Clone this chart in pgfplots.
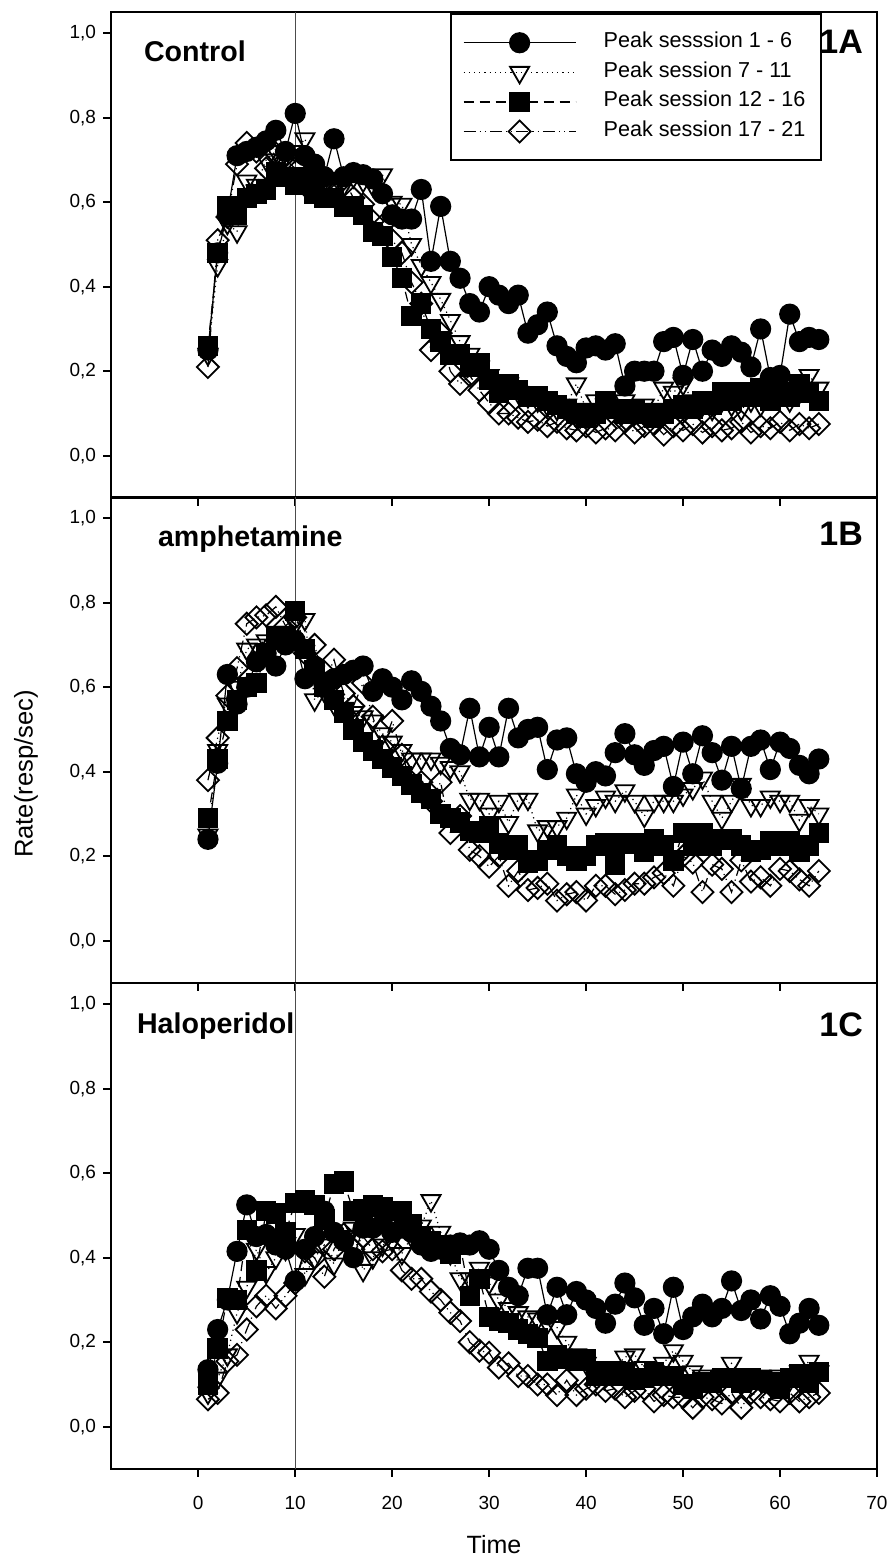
\documentclass[border=0pt]{standalone}
\usepackage{fontspec}
\setmainfont{Liberation Sans}
\usepackage{pgfplots}
\usepackage{pgfplotstable}
\pgfplotsset{compat=1.18}

% columns: a = sessions 1-6, b = 7-11, c = 12-16, d = 17-21
\pgfplotstableread{
x a b c d
1 0.25 0.24 0.26 0.21
2 0.48 0.45 0.48 0.51
3 0.57 0.55 0.59 0.565
4 0.71 0.53 0.57 0.69
5 0.72 0.65 0.61 0.74
6 0.73 0.64 0.62 0.72
7 0.745 0.70 0.63 0.68
8 0.77 0.72 0.67 0.715
9 0.72 0.71 0.66 0.70
10 0.81 0.72 0.64 0.68
11 0.71 0.75 0.66 0.64
12 0.69 0.67 0.62 0.64
13 0.66 0.64 0.61 0.65
14 0.75 0.63 0.61 0.615
15 0.66 0.64 0.59 0.655
16 0.67 0.66 0.59 0.61
17 0.665 0.65 0.57 0.595
18 0.655 0.64 0.53 0.555
19 0.62 0.665 0.52 0.545
20 0.57 0.60 0.47 0.51
21 0.56 0.595 0.42 0.48
22 0.56 0.50 0.33 0.41
23 0.63 0.45 0.36 0.36
24 0.46 0.41 0.30 0.25
25 0.59 0.37 0.27 0.29
26 0.46 0.32 0.24 0.20
27 0.42 0.27 0.24 0.17
28 0.36 0.24 0.21 0.19
29 0.34 0.21 0.22 0.155
30 0.40 0.19 0.18 0.125
31 0.38 0.17 0.15 0.10
32 0.36 0.17 0.17 0.10
33 0.38 0.15 0.155 0.09
34 0.29 0.14 0.14 0.08
35 0.31 0.13 0.14 0.085
36 0.34 0.12 0.13 0.07
37 0.26 0.11 0.12 0.08
38 0.235 0.12 0.11 0.065
39 0.22 0.17 0.10 0.06
40 0.255 0.11 0.09 0.07
41 0.26 0.13 0.10 0.055
42 0.25 0.12 0.13 0.065
43 0.265 0.11 0.11 0.06
44 0.165 0.13 0.10 0.08
45 0.20 0.10 0.11 0.055
46 0.20 0.12 0.10 0.07
47 0.20 0.11 0.09 0.075
48 0.27 0.16 0.10 0.05
49 0.28 0.15 0.11 0.07
50 0.19 0.17 0.12 0.06
51 0.275 0.13 0.11 0.075
52 0.20 0.12 0.13 0.055
53 0.25 0.11 0.12 0.07
54 0.235 0.13 0.15 0.06
55 0.26 0.12 0.13 0.065
56 0.245 0.11 0.15 0.08
57 0.21 0.13 0.14 0.055
58 0.30 0.12 0.16 0.07
59 0.185 0.14 0.13 0.065
60 0.19 0.15 0.15 0.08
61 0.335 0.13 0.14 0.06
62 0.27 0.15 0.17 0.075
63 0.28 0.19 0.15 0.065
64 0.275 0.16 0.13 0.075
}\ctrl

\pgfplotstableread{
x a b c d
1 0.24 0.25 0.29 0.38
2 0.42 0.45 0.43 0.48
3 0.63 0.56 0.52 0.58
4 0.56 0.60 0.57 0.645
5 0.60 0.69 0.60 0.75
6 0.66 0.70 0.61 0.765
7 0.68 0.71 0.68 0.77
8 0.65 0.73 0.72 0.79
9 0.70 0.73 0.72 0.745
10 0.71 0.75 0.78 0.765
11 0.62 0.76 0.69 0.68
12 0.65 0.57 0.64 0.70
13 0.60 0.59 0.60 0.61
14 0.62 0.56 0.57 0.665
15 0.63 0.55 0.54 0.585
16 0.64 0.54 0.50 0.555
17 0.65 0.53 0.47 0.61
18 0.59 0.52 0.45 0.53
19 0.62 0.49 0.43 0.46
20 0.60 0.47 0.41 0.52
21 0.57 0.45 0.39 0.44
22 0.615 0.43 0.37 0.375
23 0.59 0.43 0.35 0.375
24 0.555 0.43 0.335 0.33
25 0.52 0.42 0.30 0.375
26 0.455 0.41 0.29 0.255
27 0.44 0.40 0.28 0.295
28 0.55 0.335 0.26 0.215
29 0.435 0.335 0.255 0.20
30 0.505 0.30 0.27 0.175
31 0.435 0.33 0.23 0.20
32 0.55 0.28 0.215 0.13
33 0.48 0.335 0.225 0.165
34 0.50 0.335 0.185 0.12
35 0.505 0.26 0.19 0.125
36 0.405 0.27 0.215 0.135
37 0.475 0.27 0.225 0.095
38 0.48 0.29 0.20 0.11
39 0.395 0.345 0.19 0.115
40 0.375 0.30 0.20 0.095
41 0.40 0.32 0.225 0.13
42 0.39 0.34 0.23 0.13
43 0.445 0.33 0.18 0.11
44 0.49 0.355 0.23 0.12
45 0.44 0.33 0.23 0.135
46 0.415 0.295 0.21 0.135
47 0.45 0.33 0.24 0.15
48 0.46 0.33 0.225 0.16
49 0.365 0.33 0.19 0.13
50 0.47 0.345 0.255 0.20
51 0.395 0.36 0.225 0.185
52 0.485 0.385 0.255 0.115
53 0.445 0.33 0.225 0.18
54 0.38 0.29 0.24 0.17
55 0.46 0.33 0.24 0.115
56 0.36 0.37 0.225 0.19
57 0.46 0.32 0.21 0.14
58 0.475 0.32 0.215 0.15
59 0.405 0.34 0.235 0.13
60 0.47 0.33 0.225 0.17
61 0.455 0.33 0.235 0.165
62 0.415 0.285 0.21 0.145
63 0.395 0.32 0.225 0.13
64 0.43 0.30 0.255 0.165
}\amph

\pgfplotstableread{
x a b c d
1 0.135 0.08 0.10 0.065
2 0.23 0.115 0.185 0.08
3 0.30 0.17 0.305 0.155
4 0.415 0.27 0.30 0.17
5 0.525 0.33 0.465 0.23
6 0.45 0.42 0.37 0.285
7 0.455 0.365 0.51 0.31
8 0.43 0.40 0.505 0.28
9 0.42 0.42 0.46 0.31
10 0.345 0.455 0.53 0.34
11 0.42 0.36 0.535 0.415
12 0.45 0.40 0.525 0.40
13 0.51 0.43 0.49 0.355
14 0.46 0.385 0.575 0.42
15 0.44 0.45 0.58 0.455
16 0.40 0.47 0.51 0.42
17 0.47 0.37 0.515 0.45
18 0.47 0.40 0.525 0.42
19 0.48 0.43 0.52 0.415
20 0.46 0.44 0.51 0.42
21 0.47 0.41 0.51 0.37
22 0.46 0.45 0.48 0.35
23 0.43 0.475 0.45 0.35
24 0.415 0.535 0.44 0.32
25 0.42 0.46 0.43 0.30
26 0.43 0.41 0.41 0.27
27 0.435 0.35 0.43 0.25
28 0.43 0.35 0.31 0.20
29 0.44 0.375 0.35 0.18
30 0.42 0.34 0.26 0.175
31 0.37 0.30 0.25 0.14
32 0.33 0.28 0.245 0.15
33 0.31 0.27 0.23 0.12
34 0.375 0.26 0.22 0.12
35 0.375 0.255 0.21 0.10
36 0.265 0.245 0.155 0.10
37 0.33 0.235 0.17 0.075
38 0.265 0.20 0.16 0.11
39 0.32 0.17 0.155 0.075
40 0.30 0.15 0.16 0.09
41 0.28 0.14 0.12 0.10
42 0.245 0.13 0.13 0.085
43 0.29 0.14 0.12 0.09
44 0.34 0.165 0.13 0.07
45 0.305 0.17 0.11 0.085
46 0.24 0.14 0.115 0.09
47 0.28 0.13 0.13 0.06
48 0.22 0.15 0.12 0.075
49 0.33 0.18 0.12 0.07
50 0.23 0.155 0.10 0.07
51 0.26 0.13 0.09 0.045
52 0.29 0.12 0.105 0.07
53 0.26 0.11 0.105 0.065
54 0.28 0.12 0.115 0.055
55 0.345 0.15 0.115 0.08
56 0.275 0.12 0.105 0.045
57 0.30 0.11 0.115 0.08
58 0.255 0.12 0.11 0.07
59 0.31 0.10 0.105 0.065
60 0.285 0.12 0.09 0.06
61 0.22 0.11 0.115 0.08
62 0.245 0.13 0.125 0.06
63 0.28 0.155 0.105 0.07
64 0.24 0.13 0.13 0.08
}\halo

\pgfplotsset{
  panel/.style={
    anchor=south west, scale only axis, width=383pt, height=243pt,
    xmin=-9, xmax=70, ymin=-0.1, ymax=1.05,
    xtick={0,10,...,70}, ytick={0,0.2,0.4,0.6,0.8,1},
    tick align=outside, xtick pos=bottom, ytick pos=left,
    major tick length=4pt,
    axis line style={line width=1pt},
    every tick/.style={black, line width=1pt},
    /pgf/number format/assume math mode=true,
    tick label style={font=\fontsize{9.5}{11}\selectfont},
    xticklabel shift=6pt,
    yticklabel style={/pgf/number format/.cd, fixed, fixed zerofill, precision=1, use comma},
    legend image code/.code={\draw[mark repeat=2,mark phase=2] plot coordinates {(0pt,0pt) (28pt,0pt) (56pt,0pt)};},
  },
  vline/.style={black!70, line width=0.5pt, forget plot},
  s1/.style={black, line width=0.6pt, mark=*, mark size=5pt, mark options={solid, fill=black}},
  s2/.style={black, line width=0.6pt, dotted, mark=triangle, mark size=5.5pt, mark options={solid, fill=white, rotate=180, line width=0.9pt}},
  s3/.style={black, line width=0.6pt, dash pattern=on 5pt off 3pt, mark=square*, mark size=4.8pt, mark options={solid, fill=black}},
  s4/.style={black, line width=0.6pt, dash pattern=on 6pt off 2pt on 0.6pt off 2pt on 0.6pt off 2pt, mark=square, mark size=3.9pt, mark options={solid, fill=white, rotate=45, line width=0.9pt}},
}

\begin{document}
\begin{tikzpicture}
\path[use as bounding box] (0,0) rectangle (446.5pt,779.5pt);

% 1A control
\begin{axis}[panel, at={(55.5pt,530.5pt)}, xticklabels={},
  legend style={at={(0.4426,0.998)}, anchor=north west, draw=black, line width=1pt,
    inner xsep=6pt, inner ysep=7pt,
    font=\fontsize{10.8}{13}\selectfont, cells={anchor=west},
    nodes={inner sep=1.7pt, text height=8.2pt, text depth=3.2pt},
    /tikz/every odd column/.append style={column sep=12pt}}]
\addplot[vline] coordinates {(10,-0.1) (10,1.05)};
\addplot[s1] table[x=x,y=a]{\ctrl};
\addplot[s2] table[x=x,y=b]{\ctrl};
\addplot[s3] table[x=x,y=c]{\ctrl};
\addplot[s4] table[x=x,y=d]{\ctrl};
\legend{Peak sesssion 1 - 6, Peak session 7 - 11, Peak session 12 - 16, Peak session 17 - 21}
\end{axis}

% 1B amphetamine
\begin{axis}[panel, at={(55.5pt,288pt)}, xticklabels={}]
\addplot[vline] coordinates {(10,-0.1) (10,1.05)};
\addplot[s1] table[x=x,y=a]{\amph};
\addplot[s2] table[x=x,y=b]{\amph};
\addplot[s3] table[x=x,y=c]{\amph};
\addplot[s4] table[x=x,y=d]{\amph};
\end{axis}

% 1C haloperidol
\begin{axis}[panel, at={(55.5pt,45pt)}]
\addplot[vline] coordinates {(10,-0.1) (10,1.05)};
\addplot[s1] table[x=x,y=a]{\halo};
\addplot[s2] table[x=x,y=b]{\halo};
\addplot[s3] table[x=x,y=c]{\halo};
\addplot[s4] table[x=x,y=d]{\halo};
\end{axis}

\node[anchor=base west, font=\bfseries\fontsize{14.3}{16}\selectfont] at (68.5pt,748.5pt) {Control};
\node[anchor=base west, font=\bfseries\fontsize{14.3}{16}\selectfont] at (75.5pt,506.2pt) {amphetamine};
\node[anchor=base west, font=\bfseries\fontsize{14.3}{16}\selectfont] at (65pt,262.8pt) {Haloperidol};
\node[anchor=base east, font=\bfseries\fontsize{17}{19}\selectfont] at (435pt,752.5pt) {1A};
\node[anchor=base east, font=\bfseries\fontsize{17}{19}\selectfont] at (435pt,506.5pt) {1B};
\node[anchor=base east, font=\bfseries\fontsize{17}{19}\selectfont] at (435pt,261pt) {1C};
\node[rotate=90, font=\fontsize{12.8}{15}\selectfont] at (13pt,392.5pt) {Rate(resp/sec)};
\node[font=\fontsize{12.5}{15}\selectfont] at (247pt,7pt) {Time};
\end{tikzpicture}
\end{document}
